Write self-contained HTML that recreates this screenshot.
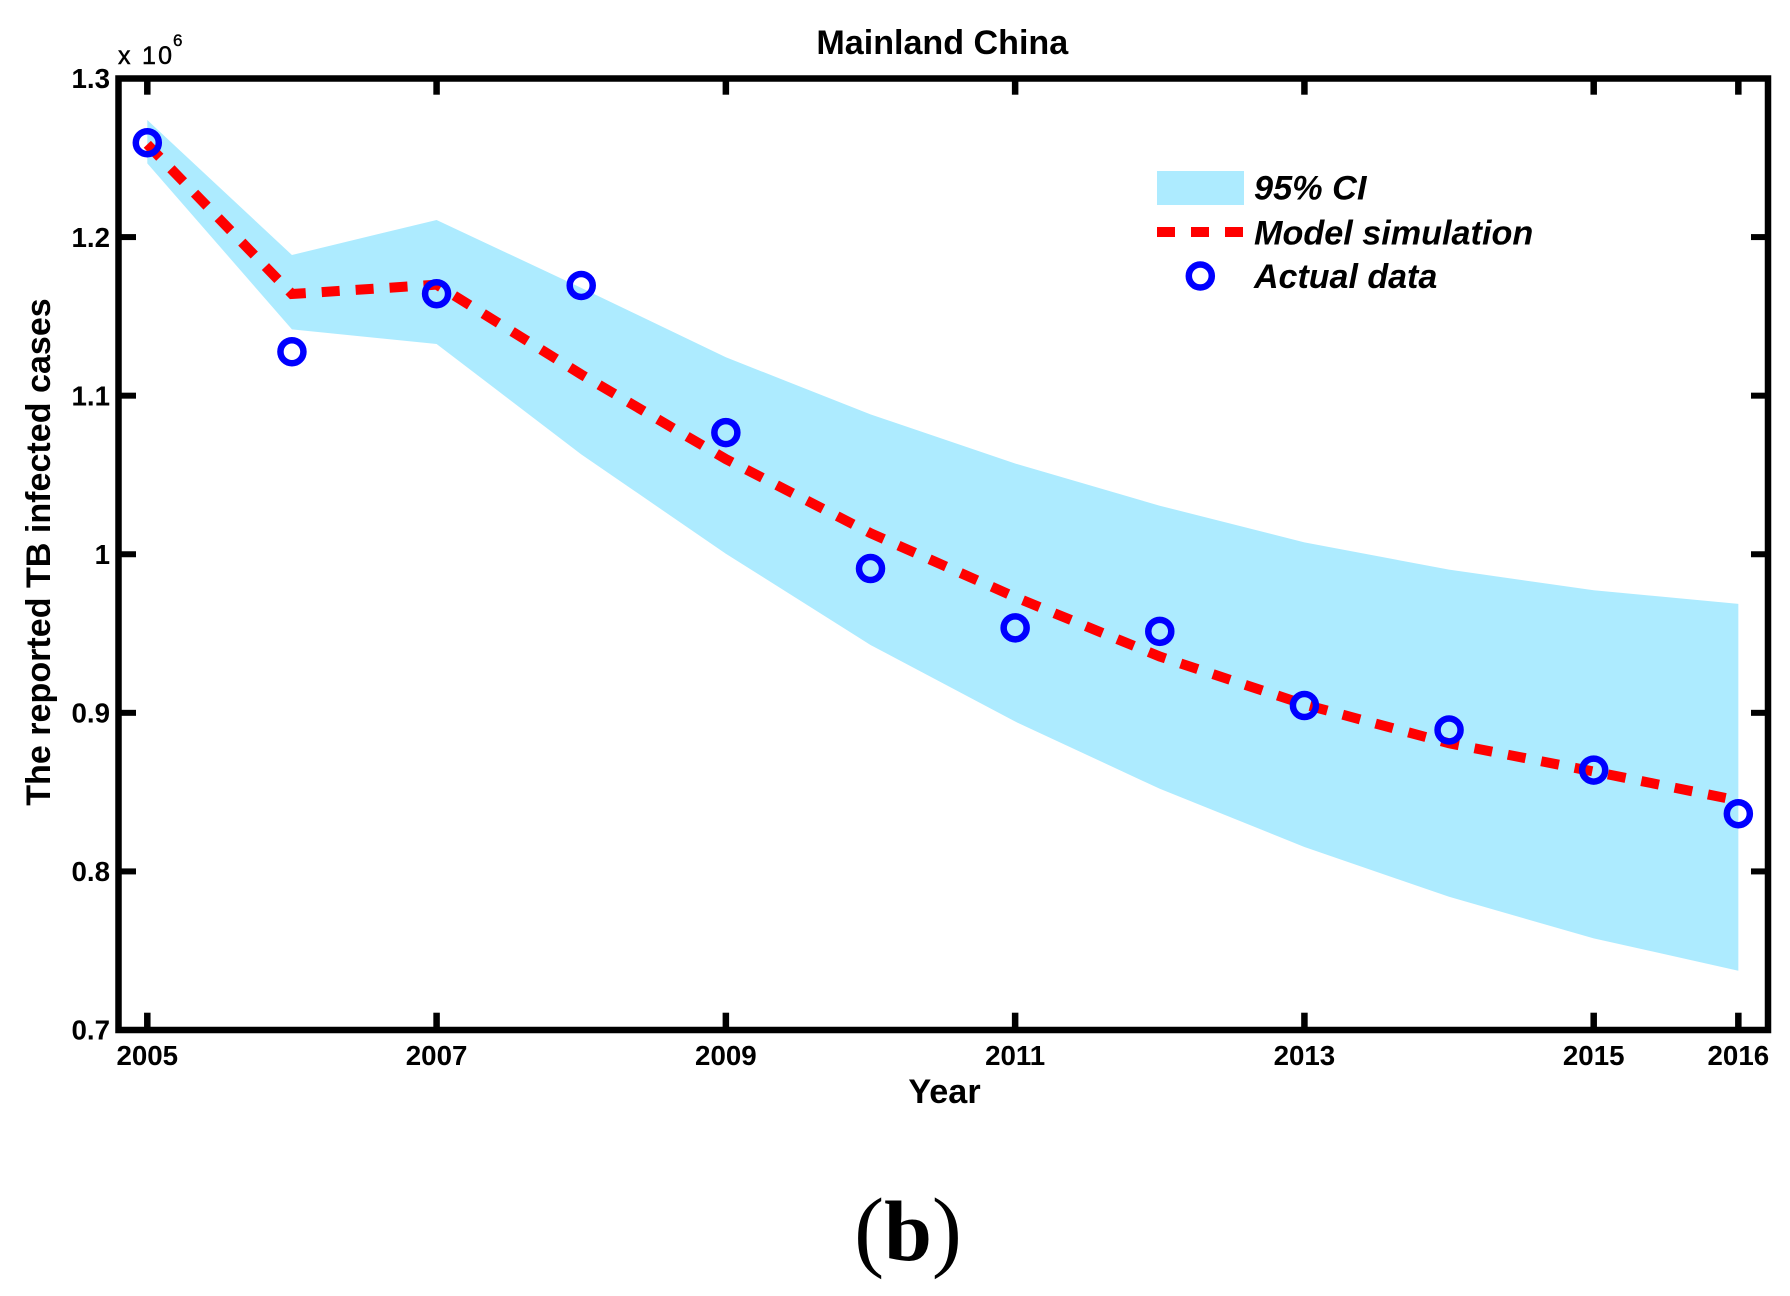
<!DOCTYPE html>
<html>
<head>
<meta charset="utf-8">
<style>
html,body{margin:0;padding:0;background:#fff;width:1790px;height:1296px;overflow:hidden}
svg{display:block}
text{font-family:"Liberation Sans",sans-serif;font-weight:bold;fill:#000}
</style>
</head>
<body>
<svg id="chart" xmlns="http://www.w3.org/2000/svg" width="1790" height="1296" viewBox="0 0 1790 1296">
  <g id="band-layer"></g>
  <g id="line-layer"></g>
  <g id="point-layer"></g>
  <rect x="118.5" y="78.5" width="1649.5" height="951.5" fill="none" stroke="#000" stroke-width="6.5"/>
  <g id="tick-layer"></g>
  <text x="942.3" y="54" font-size="34.1" text-anchor="middle">Mainland China</text>
  <text x="118" y="64" font-size="25" textLength="54" lengthAdjust="spacing" style="font-weight:normal;stroke:#000;stroke-width:0.5">x 10</text>
  <text x="173" y="46" font-size="17" style="font-weight:normal;stroke:#000;stroke-width:0.4">6</text>
  <text x="944.5" y="1103" font-size="34.2" text-anchor="middle">Year</text>
  <text transform="translate(50,552) rotate(-90)" font-size="34.1" text-anchor="middle">The reported TB infected cases</text>
  <g>
    <rect x="1157" y="171" width="87" height="34" fill="#adebff"/>
    <text x="1254" y="199.5" font-size="34.3" font-style="italic">95% CI</text>
    <line x1="1157" y1="232" x2="1244" y2="232" stroke="#f00" stroke-width="10" stroke-dasharray="18 16"/>
    <text x="1254" y="244.5" font-size="34.2" font-style="italic">Model simulation</text>
    <circle cx="1200.3" cy="276" r="11.5" fill="none" stroke="#00f" stroke-width="6.5"/>
    <text x="1254" y="288" font-size="34" font-style="italic">Actual data</text>
  </g>
  <text x="908" y="1260" font-size="86" text-anchor="middle" style="font-family:'Liberation Serif',serif"><tspan font-size="90" style="font-weight:normal">(</tspan>b<tspan font-size="90" style="font-weight:normal">)</tspan></text>
</svg>
<script>
var years = [2005,2006,2007,2008,2009,2010,2011,2012,2013,2014,2015,2016];
var actualData = [1.2595,1.1277,1.1643,1.1695,1.0767,0.991,0.9536,0.9514,0.9046,0.8892,0.8639,0.8364];
var modelSimulation = [1.2585,1.1641,1.17,1.1134,1.06,1.0133,0.973,0.9355,0.9053,0.8808,0.863,0.8447];
var ciUpper = [1.2738,1.1887,1.2108,1.168,1.1242,1.0882,1.0572,1.0306,1.0075,0.9903,0.9773,0.9687];
var ciLower = [1.2465,1.1418,1.1326,1.063,1.0003,0.9428,0.8945,0.8521,0.8154,0.784,0.7578,0.7374];
var xTickValues = [2005,2007,2009,2011,2013,2015,2016];
var xTickLabels = ["2005","2007","2009","2011","2013","2015","2016"];
var yTickValues = [1.3,1.2,1.1,1.0,0.9,0.8,0.7];
var yTickLabels = ["1.3","1.2","1.1","1","0.9","0.8","0.7"];

var SVG_NS = "http://www.w3.org/2000/svg";
function xScale(year){ return 147.3 + (year - 2005) * 144.64; }
function yScale(value){ return 1030 - (value - 0.7) / 0.6 * 951.5; }
function make(tag, attrs, parent){
  var node = document.createElementNS(SVG_NS, tag);
  for (var key in attrs) node.setAttribute(key, attrs[key]);
  parent.appendChild(node);
  return node;
}

var bandPoints = [];
years.forEach(function(y, i){ bandPoints.push(xScale(y).toFixed(2) + "," + yScale(ciUpper[i]).toFixed(2)); });
for (var b = years.length - 1; b >= 0; b--) {
  bandPoints.push(xScale(years[b]).toFixed(2) + "," + yScale(ciLower[b]).toFixed(2));
}
var band = make("polygon", {points: bandPoints.join(" "), fill: "#adebff"}, document.getElementById("band-layer"));



var linePoints = years.map(function(y, i){ return xScale(y).toFixed(2) + "," + yScale(modelSimulation[i]).toFixed(2); });
var modelLine = make("polyline", {points: linePoints.join(" "), fill: "none", stroke: "#f00", "stroke-width": 10, "stroke-dasharray": "18 16", "stroke-linejoin": "miter"}, document.getElementById("line-layer"));



years.forEach(function(y, i){
  var point = make("circle", {cx: xScale(y), cy: yScale(actualData[i]), r: 11.5, fill: "none", stroke: "#00f", "stroke-width": 6.5}, document.getElementById("point-layer"));
  
  
});

var tickLayer = document.getElementById("tick-layer");
xTickValues.forEach(function(v, i){
  var x = xScale(v);
  var bottomTick = make("line", {x1: x, y1: 1027, x2: x, y2: 1012.7, stroke: "#000", "stroke-width": 6.5}, tickLayer);
  
  
  var topTick = make("line", {x1: x, y1: 81, x2: x, y2: 94.7, stroke: "#000", "stroke-width": 6.5}, tickLayer);
  
  
  var xLabel = make("text", {x: x, y: 1065, "font-size": 27.7, "text-anchor": "middle"}, tickLayer);
  xLabel.textContent = xTickLabels[i];
  
  
});
yTickValues.forEach(function(v, i){
  var y = yScale(v);
  var leftTick = make("line", {x1: 121, y1: y, x2: 136, y2: y, stroke: "#000", "stroke-width": 6}, tickLayer);
  
  
  var rightTick = make("line", {x1: 1751, y1: y, x2: 1765, y2: y, stroke: "#000", "stroke-width": 6}, tickLayer);
  
  
  var yLabel = make("text", {x: 110, y: y + 9.7, "font-size": 27.7, "text-anchor": "end"}, tickLayer);
  yLabel.textContent = yTickLabels[i];
  
  
});
</script>
</body>
</html>
